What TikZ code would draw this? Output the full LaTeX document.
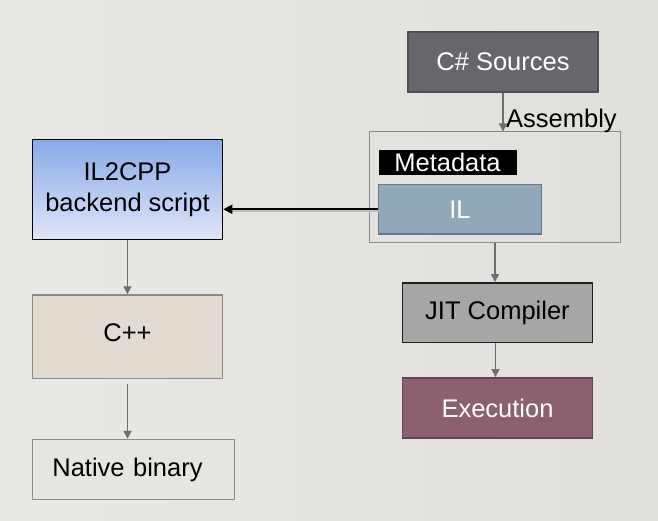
\documentclass[tikz,border=0pt]{standalone}
\usepackage{fontspec}
\setmainfont{Liberation Sans}
\usetikzlibrary{arrows.meta}
\definecolor{bgL}{HTML}{EAE9E6}
\definecolor{bgR}{HTML}{E1DFDB}
\definecolor{csFill}{HTML}{67666B}
\definecolor{csDraw}{HTML}{4F4E52}
\definecolor{ilFill}{HTML}{90A8B8}
\definecolor{ilDraw}{HTML}{5E7A8C}
\definecolor{gTop}{HTML}{88A9E9}
\definecolor{gBot}{HTML}{DFE6F7}
\definecolor{cppFill}{HTML}{E2DBD1}
\definecolor{boxGray}{HTML}{8A8A8A}
\definecolor{natFill}{HTML}{E6E5E2}
\definecolor{jitFill}{HTML}{A6A6A6}
\definecolor{exFill}{HTML}{8C6070}
\definecolor{exDraw}{HTML}{6A4153}
\definecolor{arrGray}{HTML}{6E6E6E}
\begin{document}
\begin{tikzpicture}[x=1pt,y=-1pt,
  every node/.style={font=\fontsize{25.5}{30}\selectfont, inner sep=0pt, align=center},
  box/.style={rectangle, minimum width=#1},
  graytip/.style={draw=arrGray, line width=1.3pt, -{Triangle[width=8pt,length=8pt]}},
  blacktip/.style={draw=black, line width=1.8pt, -{Triangle[width=9pt,length=9pt]}}]
\useasboundingbox (0,0) rectangle (658,521);
\shade[left color=bgL, right color=bgR] (0,0) rectangle (658,521);

\node (cs) [box=190pt, minimum height=60pt, fill=csFill, draw=csDraw, line width=1.8pt, text=white] at (503,62) {C\# Sources};
\node (ctr) [box=251pt, minimum height=111pt, draw=boxGray, line width=1pt] at (495,187.5) {};
\node (asm) [anchor=base west] at (506,128) {Assembly};
\node (meta) [box=138pt, minimum height=25pt, fill=black, text=white] at (447.5,162.5) {Metadata};
\node (il) [box=163pt, minimum height=49.5pt, fill=ilFill, draw=ilDraw, line width=1.8pt, text=white] at (460,209.25) {IL};

\node (il2) [box=190pt, minimum height=100pt, top color=gTop, bottom color=gBot, draw=black, line width=1.5pt] at (127.5,189.5) {IL2CPP\\[1pt]backend script};
\node (cpp) [box=190pt, minimum height=83.5pt, fill=cppFill, draw=boxGray, line width=1.5pt, text depth=9pt] at (127.5,336.75) {C++};
\node (nat) [box=202pt, minimum height=60pt, fill=natFill, draw=boxGray, line width=1.5pt, text width=202pt] at (133.5,469.5) {\hspace*{-12pt}Native binary};

\node (jit) [box=190pt, minimum height=59.5pt, fill=jitFill, draw=black!88, line width=1.8pt] at (497.5,312.75) {JIT Compiler};
\node (exe) [box=190pt, minimum height=60pt, fill=exFill, draw=exDraw, line width=1.8pt, text=white] at (497.5,408) {Execution};

\draw[graytip] (cs.south) -- (cs.south |- ctr.north);
\draw[graytip] (ctr.south) -- (ctr.south |- jit.north);
\draw[graytip] ([xshift=-2pt]jit.south) -- ([xshift=-2pt]exe.north);
\draw[graytip] (il2.south) -- (cpp.north);
\draw[graytip] ([yshift=-5pt]cpp.south) -- (cpp.south |- nat.north);
\draw[black!25, line width=1.8pt, transform canvas={shift={(1pt,-1.5pt)}}] (il.west) -- ([xshift=8pt]il.west -| il2.east);
\draw[blacktip] (il.west) -- (il.west -| il2.east);
\end{tikzpicture}
\end{document}
